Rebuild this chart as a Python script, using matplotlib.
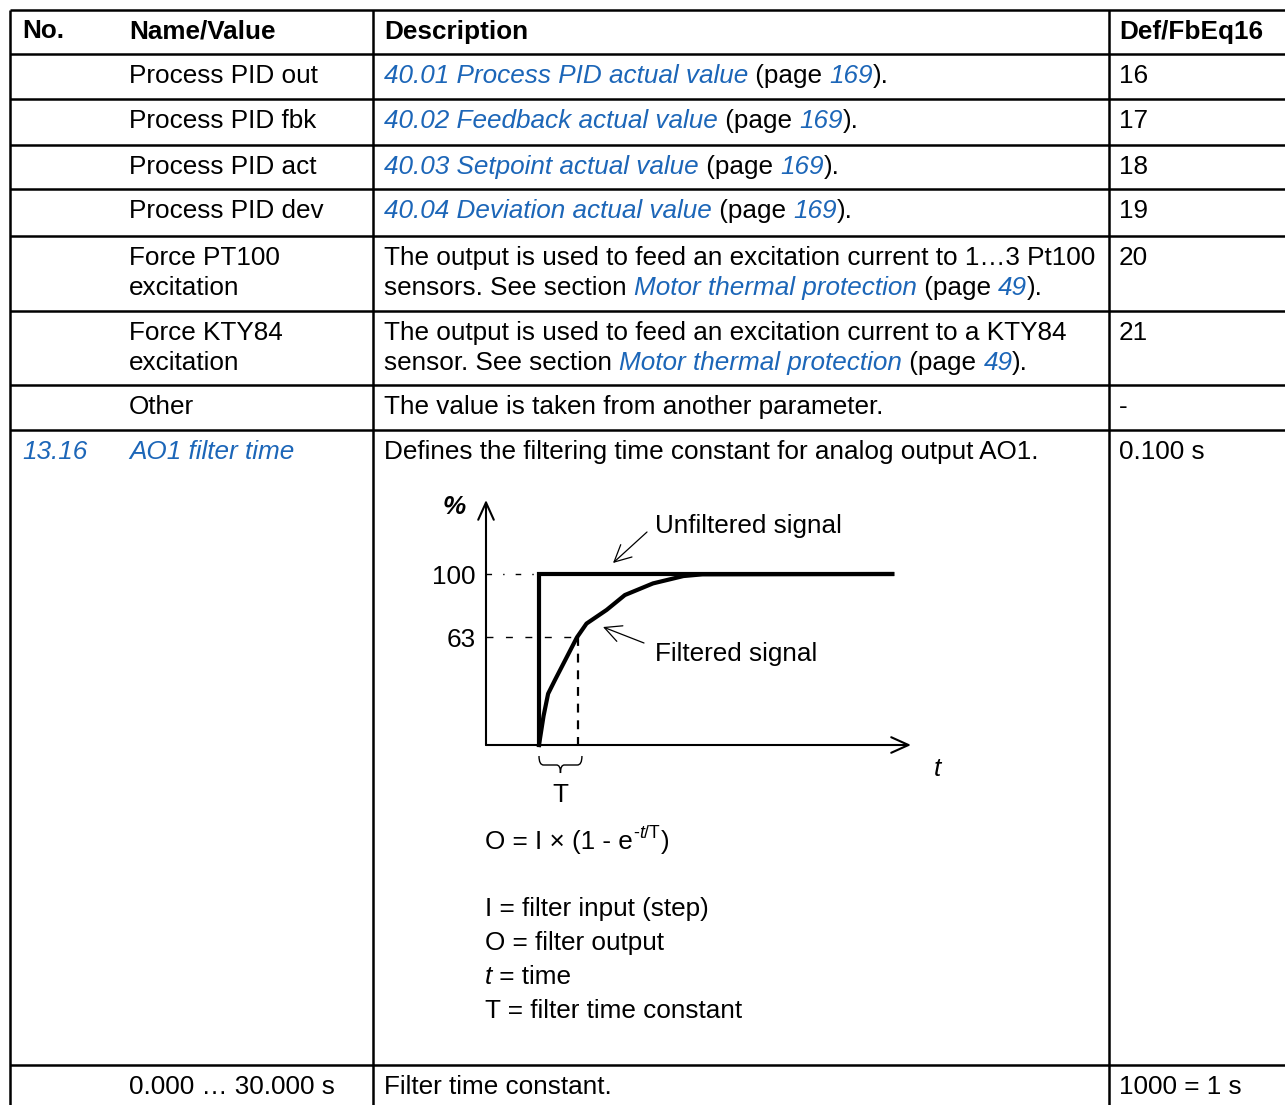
import matplotlib
matplotlib.use("Agg")
import matplotlib.pyplot as plt
from matplotlib.path import Path
from matplotlib.patches import PathPatch

plt.rcParams['font.family'] = ['Liberation Sans', 'DejaVu Sans']

# ---- table content

headers = ["No.", "Name/Value", "Description", "Def/FbEq16"]

numbers = ["", "", "", "", "", "", "", "13.16", ""]
names = ["Process PID out", "Process PID fbk", "Process PID act", "Process PID dev",
         "Force PT100\nexcitation", "Force KTY84\nexcitation", "Other",
         "AO1 filter time", "0.000 \u2026 30.000 s"]
defaults = ["16", "17", "18", "19", "20", "21", "-", "0.100 s", "1000 = 1 s"]

descriptions = [
    [[("40.01 Process PID actual value", "link"), (" (page ", "plain"), ("169", "link"), (").", "plain")]],
    [[("40.02 Feedback actual value", "link"), (" (page ", "plain"), ("169", "link"), (").", "plain")]],
    [[("40.03 Setpoint actual value", "link"), (" (page ", "plain"), ("169", "link"), (").", "plain")]],
    [[("40.04 Deviation actual value", "link"), (" (page ", "plain"), ("169", "link"), (").", "plain")]],
    [[("The output is used to feed an excitation current to 1\u20263 Pt100", "plain")],
     [("sensors. See section ", "plain"), ("Motor thermal protection", "link"), (" (page ", "plain"),
      ("49", "link"), (").", "plain")]],
    [[("The output is used to feed an excitation current to a KTY84", "plain")],
     [("sensor. See section ", "plain"), ("Motor thermal protection", "link"), (" (page ", "plain"),
      ("49", "link"), (").", "plain")]],
    [[("The value is taken from another parameter.", "plain")]],
    [[("Defines the filtering time constant for analog output AO1.", "plain")]],
    [[("Filter time constant.", "plain")]],
]
link_rows = [7]   # rows whose number and name are links

# ---- step response diagram (t in units of T, output in %)
step_t = [0, 0, 9.3]
step_p = [0, 100, 100]
filt_t = [0, 0.12, 0.24, 0.42, 1.0, 1.25, 1.78, 2.26, 3.0, 3.8, 4.3, 9.3]
filt_p = [0, 17, 30, 38, 63, 71, 79, 87.7, 94.5, 98.8, 99.8, 100]
level_ticks = [100, 63]

formula_base = "O = I \u00d7 (1 - e"
formula_sup = [("-", "plain"), ("t", "ital"), ("/T", "plain")]
formula_end = ")"
legend_lines = [[("I = filter input (step)", "plain")],
                [("O = filter output", "plain")],
                [("t", "ital"), (" = time", "plain")],
                [("T = filter time constant", "plain")]]

# ---- layout (pixels)
W, H = 1285, 1105
row_y = [10, 54, 99, 145, 189, 236, 311, 385, 430, 1065, 1115]
col_x = [10, 373, 1109]
text_x = [22, 129, 384, 1119]
FS = 18.8
BLUE = '#1c66b8'
LINE_GAP = 30

STYLES = {
    "plain": dict(color='black'),
    "ital": dict(color='black', style='italic'),
    "link": dict(color=BLUE, style='italic'),
    "bold": dict(color='black', weight='bold'),
}

fig = plt.figure(figsize=(W / 100, H / 100), dpi=100)
ax = fig.add_axes([0, 0, 1, 1])
ax.set_xlim(0, W)
ax.set_ylim(H, 0)
ax.axis('off')
renderer = fig.canvas.get_renderer()


def text_width(s, style, size=FS):
    t1 = ax.text(0, 0, s + "|", fontsize=size, **STYLES[style])
    t2 = ax.text(0, 0, "|", fontsize=size, **STYLES[style])
    w = t1.get_window_extent(renderer).width - t2.get_window_extent(renderer).width
    t1.remove()
    t2.remove()
    return w


def draw_run(x, y, pieces, size=FS):
    for s, style in pieces:
        ax.text(x, y, s, fontsize=size, va='baseline', ha='left', **STYLES[style])
        x += text_width(s, style, size)
    return x


# grid lines
for y in row_y[:-1]:
    ax.plot([col_x[0], W + 5], [y, y], color='black', lw=1.8, solid_capstyle='butt')
for x in col_x:
    ax.plot([x, x], [row_y[0], H + 5], color='black', lw=1.8, solid_capstyle='butt')

# header
for x, h in zip(text_x, headers):
    ax.text(x, row_y[0] + 28.5, h, fontsize=FS, va='baseline', **STYLES["bold"])

# body rows
for i in range(len(names)):
    base = row_y[i + 1] + 29
    style = "link" if i in link_rows else "plain"
    if numbers[i]:
        ax.text(text_x[0], base, numbers[i], fontsize=FS, va='baseline', **STYLES[style])
    for k, line in enumerate(names[i].split("\n")):
        ax.text(text_x[1], base + k * LINE_GAP, line, fontsize=FS, va='baseline', **STYLES[style])
    for k, line in enumerate(descriptions[i]):
        draw_run(text_x[2], base + k * LINE_GAP, line)
    ax.text(text_x[3], base, defaults[i], fontsize=FS, va='baseline', **STYLES["plain"])

# ---- diagram in its own axes: origin of step at pixel (539, 745)
X0, Y0, TPX, PPX = 539, 745, 38.0, 1.71
bx0, bx1, by0, by1 = 430, 970, 480, 810
dax = fig.add_axes([bx0 / W, 1 - by1 / H, (bx1 - bx0) / W, (by1 - by0) / H])
dax.set_xlim((bx0 - X0) / TPX, (bx1 - X0) / TPX)
dax.set_ylim((Y0 - by1) / PPX, (Y0 - by0) / PPX)
dax.axis('off')

ax_left = (486 - X0) / TPX
x_tip = (911 - X0) / TPX
y_tip = (Y0 - 500) / PPX

arrow_axis = dict(arrowstyle='->,head_length=0.62,head_width=0.28', lw=1.5, color='black',
                  mutation_scale=20, shrinkA=0, shrinkB=0)
dax.annotate('', xy=(ax_left, y_tip), xytext=(ax_left, 0), arrowprops=arrow_axis)
dax.annotate('', xy=(x_tip, 0), xytext=(ax_left, 0), arrowprops=arrow_axis)

dax.plot(step_t, step_p, color='black', lw=3.0, solid_joinstyle='miter')
dax.plot(filt_t, filt_p, color='black', lw=3.0, solid_joinstyle='round')

# guide lines
dax.plot([ax_left, 0], [100, 100], color='black', lw=1.0, dashes=(4, 8, 1, 8))
dax.plot([ax_left, 1.0], [63, 63], color='black', lw=1.0, dashes=(5, 9))
dax.plot([1.02, 1.02], [63, 0], color='black', lw=1.6, dashes=(4, 3.5))

for v in level_ticks:
    dax.text((476 - X0) / TPX, v, str(v), fontsize=FS, ha='right', va='center_baseline')

dax.text((454 - X0) / TPX, (Y0 - 505) / PPX, "%", fontsize=FS, ha='center', va='center_baseline',
         style='italic', weight='bold')
dax.text((937 - X0) / TPX, (Y0 - 767) / PPX, "t", fontsize=FS, ha='center', va='center_baseline',
         style='italic')
dax.text(0.55, (Y0 - 793) / PPX, "T", fontsize=FS, ha='center', va='center_baseline')

# brace below the time axis for T
bl, br = 0.0, 1.13
bt, bm, bb = (Y0 - 756) / PPX, (Y0 - 765) / PPX, (Y0 - 773) / PPX
mid = (bl + br) / 2
verts = [(bl, bt), (bl, bm), (bl + 0.12, bm), (mid - 0.1, bm), (mid, bm), (mid, bb),
         (mid, bm), (mid + 0.1, bm), (br - 0.12, bm), (br, bm), (br, bt)]
codes = [Path.MOVETO, Path.CURVE3, Path.CURVE3, Path.LINETO, Path.CURVE3, Path.CURVE3,
         Path.CURVE3, Path.CURVE3, Path.LINETO, Path.CURVE3, Path.CURVE3]
dax.add_patch(PathPatch(Path(verts, codes), fill=False, lw=1.0, color='black'))

# callouts
arrow_thin = dict(arrowstyle='->,head_length=0.6,head_width=0.3', lw=0.9, color='black',
                  mutation_scale=20, shrinkA=0, shrinkB=0)
dax.annotate('', xy=((613 - X0) / TPX, (Y0 - 563) / PPX),
             xytext=((647 - X0) / TPX, (Y0 - 532) / PPX), arrowprops=arrow_thin)
dax.annotate('', xy=((603 - X0) / TPX, (Y0 - 627) / PPX),
             xytext=((644 - X0) / TPX, (Y0 - 643) / PPX), arrowprops=arrow_thin)
dax.text((655 - X0) / TPX, (Y0 - 523) / PPX, "Unfiltered signal", fontsize=FS,
         ha='left', va='center_baseline')
dax.text((655 - X0) / TPX, (Y0 - 651) / PPX, "Filtered signal", fontsize=FS,
         ha='left', va='center_baseline')

# formula and legend
fx = draw_run(485, 849, [(formula_base, "plain")])
fx = draw_run(fx + 1, 838, formula_sup, size=FS * 0.68)
draw_run(fx + 1, 849, [(formula_end, "plain")])
for k, line in enumerate(legend_lines):
    draw_run(485, 916 + k * 34, line)

fig.savefig("out.png", dpi=100)
